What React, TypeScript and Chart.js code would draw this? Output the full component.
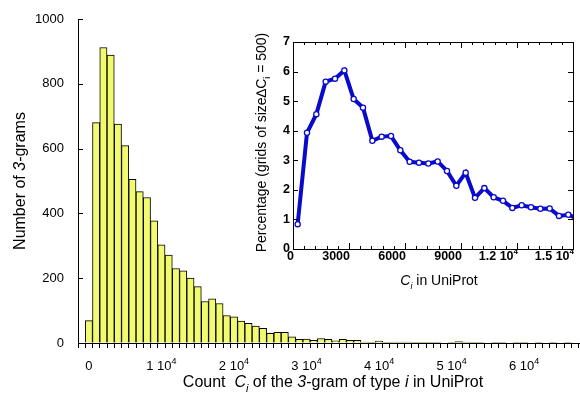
import React, { useEffect, useRef } from 'react';
import { Chart, registerables } from 'chart.js';

Chart.register(...registerables);

// ---------- Data ----------
// Histogram: number of 3-grams per count bin (bin width 1000, bins centred on 0, 1000, 2000, ...)
const BIN_WIDTH = 1000;
const binCounts = [
  69, 680, 912, 889, 676, 609, 505, 467, 449, 377,
  303, 271, 230, 223, 200, 174, 128, 136, 122, 85,
  81, 68, 61, 52, 45, 30, 33, 33, 19, 11,
  12, 8, 14, 11, 7, 11, 8, 8, 3, 1,
  6, 2, 3, 3, 3, 1, 1, 1, 1, 0,
  2, 4, 3, 1, 1, 0, 1, 1, 0, 1,
  1, 0, 1, 0, 1, 0, 1, 0,
];
const mainYTicks = [0, 200, 400, 600, 800, 1000];
const mainXLabelled = [0, 10000, 20000, 30000, 40000, 50000, 60000];
const mainXMantissa = ['0', '1 10', '2 10', '3 10', '4 10', '5 10', '6 10'];
const mainXExponent = ['', '4', '4', '4', '4', '4', '4'];

// Inset: percentage per grid of size 500
const insetX = [
  250, 750, 1250, 1750, 2250, 2750, 3250, 3750, 4250, 4750,
  5250, 5750, 6250, 6750, 7250, 7750, 8250, 8750, 9250, 9750,
  10250, 10750, 11250, 11750, 12250, 12750, 13250, 13750, 14250, 14750, 15250,
];
const insetPct = [
  0.84, 3.93, 4.56, 5.66, 5.76, 6.04, 5.07, 4.78, 3.66, 3.8,
  3.82, 3.34, 2.95, 2.92, 2.89, 2.96, 2.64, 2.14, 2.58, 1.73,
  2.06, 1.75, 1.63, 1.39, 1.48, 1.41, 1.36, 1.37, 1.12, 1.16, 1.02,
];
const insetXLabelled = [0, 3000, 6000, 9000, 12000, 15000];
const insetXMantissa = ['0', '3000', '6000', '9000', '1.2 10', '1.5 10'];
const insetXExponent = ['', '', '', '', '4', '4'];
const insetYTicks = [0, 1, 2, 3, 4, 5, 6, 7];

// ---------- Styles ----------
const FAMILY = '"Liberation Sans", Arial, Helvetica, sans-serif';
const BAR_FILL = 'rgb(242, 250, 112)';
const BLUE = '#0a0acc';

type Seg = { t: string; it?: boolean; sub?: boolean; sup?: boolean };

function drawRich(
  ctx: CanvasRenderingContext2D,
  segs: Seg[],
  x: number,
  y: number,
  size: number,
  opts: { rotate?: boolean; bold?: boolean; align?: 'center' | 'right' } = {},
) {
  ctx.save();
  ctx.translate(x, y);
  if (opts.rotate) ctx.rotate(-Math.PI / 2);
  const fontFor = (s: Seg) =>
    `${s.it ? 'italic ' : ''}${opts.bold ? 'bold ' : ''}${s.sub || s.sup ? Math.round(size * 0.66) : size}px ${FAMILY}`;
  let total = 0;
  segs.forEach((s) => {
    ctx.font = fontFor(s);
    total += ctx.measureText(s.t).width;
  });
  let cx = opts.align === 'right' ? -total : -total / 2;
  ctx.textBaseline = 'alphabetic';
  ctx.textAlign = 'left';
  ctx.fillStyle = '#000';
  segs.forEach((s) => {
    ctx.font = fontFor(s);
    const dy = s.sub ? size * 0.3 : s.sup ? -size * 0.45 : 0;
    ctx.fillText(s.t, cx, dy);
    cx += ctx.measureText(s.t).width;
  });
  ctx.restore();
}

export default function App() {
  const mainRef = useRef<HTMLCanvasElement>(null);
  const insetRef = useRef<HTMLCanvasElement>(null);

  useEffect(() => {
    const mainTickVals: number[] = [];
    for (let v = -1000; v <= 67000; v += BIN_WIDTH) mainTickVals.push(v);

    const mainPlugin = {
      id: 'mainDecor',
      afterDraw(chart: any) {
        const ctx = chart.ctx as CanvasRenderingContext2D;
        const ca = chart.chartArea;
        const xs = chart.scales.x;
        const ys = chart.scales.y;
        ctx.save();
        ctx.strokeStyle = '#000';
        ctx.lineWidth = 1;
        mainYTicks.forEach((v) => {
          const py = Math.round(ys.getPixelForValue(v)) + 0.5;
          ctx.beginPath();
          ctx.moveTo(ca.left, py);
          ctx.lineTo(ca.left + 5, py);
          ctx.stroke();
        });
        ctx.restore();
        mainXLabelled.forEach((v, i) => {
          const segs: Seg[] = [{ t: mainXMantissa[i] }];
          if (mainXExponent[i]) segs.push({ t: mainXExponent[i], sup: true });
          drawRich(ctx, segs, xs.getPixelForValue(v), 370, 13);
        });
        drawRich(
          ctx,
          [
            { t: 'Count  ' },
            { t: 'C', it: true },
            { t: 'i', it: true, sub: true },
            { t: ' of the ' },
            { t: '3', it: true },
            { t: '-gram of type ' },
            { t: 'i', it: true },
            { t: ' in UniProt' },
          ],
          (ca.left + ca.right) / 2 + 4,
          387,
          16,
        );
        drawRich(
          ctx,
          [{ t: 'Number of ' }, { t: '3', it: true }, { t: '-grams' }],
          25,
          (ca.top + ca.bottom) / 2,
          16,
          { rotate: true },
        );
      },
    };

    const mainChart = new Chart(mainRef.current as HTMLCanvasElement, {
      type: 'bar',
      data: {
        datasets: [
          {
            data: binCounts.map((c, i) => ({ x: i * BIN_WIDTH, y: c })),
            backgroundColor: BAR_FILL,
            borderColor: '#000',
            borderWidth: 1,
            barPercentage: 1,
            categoryPercentage: 1,
            grouped: false,
          } as any,
        ],
      },
      options: {
        animation: false,
        responsive: false,
        maintainAspectRatio: false,
        layout: { padding: { top: 19, left: 0, right: 0, bottom: 0 } },
        plugins: { legend: { display: false }, tooltip: { enabled: false } },
        scales: {
          x: {
            type: 'linear',
            min: -1500,
            max: 67700,
            offset: false,
            grid: { drawOnChartArea: false, drawTicks: true, tickLength: 5, color: '#000', lineWidth: 1 },
            border: { display: true, color: '#000', width: 1 },
            ticks: { display: false, autoSkip: false, maxRotation: 0, minRotation: 0 },
            afterBuildTicks: (s: any) => {
              s.ticks = mainTickVals.map((v) => ({ value: v }));
            },
            afterFit: (s: any) => {
              s.height = 50;
              s.paddingLeft = 0;
              s.paddingRight = 0;
            },
          } as any,
          y: {
            min: 0,
            max: 1000,
            grid: { drawOnChartArea: false, drawTicks: false },
            border: { display: true, color: '#000', width: 1 },
            ticks: {
              stepSize: 200,
              padding: 14,
              color: '#000',
              font: { family: FAMILY, size: 13 },
              callback: (v: any) => String(v),
            },
            afterFit: (s: any) => {
              s.width = 78;
              s.paddingTop = 0;
              s.paddingBottom = 0;
            },
          } as any,
        },
      },
      plugins: [mainPlugin],
    });

    const insetTickVals: number[] = [];
    for (let v = 0; v <= 15000; v += 600) insetTickVals.push(v);

    const insetPlugin = {
      id: 'insetDecor',
      beforeDraw(chart: any) {
        const ctx = chart.ctx as CanvasRenderingContext2D;
        const ca = chart.chartArea;
        ctx.save();
        ctx.fillStyle = '#fff';
        ctx.fillRect(ca.left, ca.top, ca.right - ca.left, ca.bottom - ca.top);
        ctx.restore();
      },
      afterDraw(chart: any) {
        const ctx = chart.ctx as CanvasRenderingContext2D;
        const ca = chart.chartArea;
        const xs = chart.scales.x;
        const ys = chart.scales.y;
        ctx.save();
        ctx.strokeStyle = '#000';
        ctx.lineWidth = 1;
        ctx.strokeRect(Math.round(ca.left) + 0.5, Math.round(ca.top) + 0.5,
          Math.round(ca.right - ca.left), Math.round(ca.bottom - ca.top));
        ctx.beginPath();
        insetTickVals.forEach((v) => {
          const px = Math.round(xs.getPixelForValue(v)) + 0.5;
          const len = insetXLabelled.indexOf(v) >= 0 ? 6 : 3;
          ctx.moveTo(px, ca.bottom);
          ctx.lineTo(px, ca.bottom - len);
          ctx.moveTo(px, ca.top);
          ctx.lineTo(px, ca.top + len);
        });
        insetYTicks.forEach((v) => {
          const py = Math.round(ys.getPixelForValue(v)) + 0.5;
          ctx.moveTo(ca.left, py);
          ctx.lineTo(ca.left + 5, py);
          ctx.moveTo(ca.right, py);
          ctx.lineTo(ca.right - 5, py);
        });
        ctx.stroke();
        ctx.restore();
        insetXLabelled.forEach((v, i) => {
          const segs: Seg[] = [{ t: insetXMantissa[i] }];
          if (insetXExponent[i]) segs.push({ t: insetXExponent[i], sup: true });
          drawRich(ctx, segs, xs.getPixelForValue(v) + 1, 234.5, 12.5, { bold: true, align: 'right' });
        });
        drawRich(
          ctx,
          [{ t: 'C', it: true }, { t: 'i', it: true, sub: true }, { t: ' in UniProt' }],
          (ca.left + ca.right) / 2 + 6,
          260,
          14,
        );
        drawRich(
          ctx,
          [
            { t: 'Percentage (grids of size\u2206C' },
            { t: 'i', sub: true },
            { t: ' = 500)' },
          ],
          26,
          (ca.top + ca.bottom) / 2 - 3,
          14,
          { rotate: true },
        );
      },
    };

    const insetChart = new Chart(insetRef.current as HTMLCanvasElement, {
      type: 'line',
      data: {
        datasets: [
          {
            data: insetX.map((x, i) => ({ x, y: insetPct[i] })),
            borderColor: BLUE,
            borderWidth: 4,
            pointRadius: 2.6,
            pointBorderWidth: 1.3,
            pointBackgroundColor: '#fff',
            pointBorderColor: BLUE,
            tension: 0,
            clip: 0,
          } as any,
        ],
      },
      options: {
        animation: false,
        responsive: false,
        maintainAspectRatio: false,
        layout: { padding: { top: 17, left: 0, right: 7, bottom: 0 } },
        plugins: { legend: { display: false }, tooltip: { enabled: false } },
        scales: {
          x: {
            type: 'linear',
            min: 0,
            max: 15000,
            grid: { drawOnChartArea: false, drawTicks: false },
            border: { display: false },
            ticks: { display: false, autoSkip: false, maxRotation: 0, minRotation: 0 },
            afterBuildTicks: (s: any) => {
              s.ticks = insetTickVals.map((v) => ({ value: v }));
            },
            afterFit: (s: any) => {
              s.height = 46;
              s.paddingLeft = 0;
              s.paddingRight = 0;
            },
          } as any,
          y: {
            min: 0,
            max: 7,
            grid: { drawOnChartArea: false, drawTicks: false },
            border: { display: false },
            ticks: {
              stepSize: 1,
              padding: 3,
              color: '#000',
              font: { family: FAMILY, size: 12.5, weight: 'bold' },
            },
            afterFit: (s: any) => {
              s.width = 53;
              s.paddingTop = 0;
              s.paddingBottom = 0;
            },
          } as any,
        },
      },
      plugins: [insetPlugin],
    });

    return () => {
      mainChart.destroy();
      insetChart.destroy();
    };
  }, []);

  return (
    <div style={{ position: 'fixed', left: 0, top: 0, width: 580, height: 393, background: '#fff' }}>
      <canvas ref={mainRef} width={580} height={393} style={{ position: 'absolute', left: 0, top: 0, width: 580, height: 393 }} />
      <canvas ref={insetRef} width={340} height={270} style={{ position: 'absolute', left: 240, top: 25, width: 340, height: 270 }} />
    </div>
  );
}
